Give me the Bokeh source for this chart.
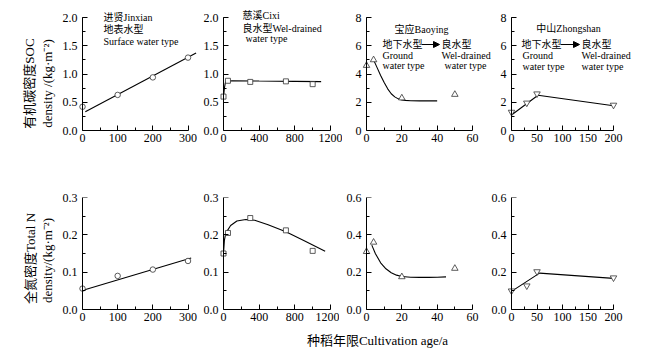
import math
from bokeh.plotting import figure
from bokeh.models import (Range1d, FixedTicker, Label, Arrow, NormalHead, LinearAxis,
                          NumeralTickFormatter)
from bokeh.layouts import row, column
from bokeh.embed import file_html
from bokeh.resources import INLINE

# ---------------- data ----------------
# SOC density (kg m-2) vs cultivation age (a)
jx_soc_age = [0, 100, 200, 300]
jx_soc = [0.42, 0.63, 0.94, 1.29]
jx_soc_fit_age = [8, 323]
jx_soc_fit = [0.33, 1.37]

cx_soc_age = [0, 50, 300, 700, 1000]
cx_soc = [0.60, 0.88, 0.86, 0.87, 0.82]
cx_soc_fit_age = [2, 10, 20, 35, 100, 400, 800, 1095]
cx_soc_fit = [0.62, 0.75, 0.84, 0.875, 0.88, 0.875, 0.87, 0.865]

by_soc_age = [0, 4, 20, 50]
by_soc = [4.6, 5.0, 2.3, 2.55]
by_soc_fit_age = [4, 6, 8, 10, 12, 14, 16, 18, 20, 22, 25, 30, 40]
by_soc_fit = [5.0, 4.45, 3.9, 3.4, 2.95, 2.6, 2.38, 2.24, 2.17, 2.13, 2.11, 2.1, 2.1]

zs_soc_age = [0, 30, 50, 200]
zs_soc = [1.3, 1.95, 2.6, 1.8]
zs_soc_fit_age = [0, 52, 200]
zs_soc_fit = [1.1, 2.5, 1.75]

# Total N density (kg m-2)
jx_tn_age = [0, 100, 200, 300]
jx_tn = [0.056, 0.09, 0.107, 0.13]
jx_tn_fit_age = [4, 309]
jx_tn_fit = [0.052, 0.138]

cx_tn_age = [0, 50, 300, 700, 1000]
cx_tn = [0.15, 0.205, 0.245, 0.212, 0.157]
cx_tn_fit_age = [0, 10, 20, 40, 80, 150, 250, 350, 500, 700, 900, 1140]
cx_tn_fit = [0.15, 0.185, 0.198, 0.21, 0.225, 0.237, 0.241, 0.239, 0.227, 0.208, 0.185, 0.156]

by_tn_age = [0, 4, 20, 50]
by_tn = [0.31, 0.36, 0.175, 0.22]
by_tn_fit_age = [3, 5, 8, 11, 14, 17, 20, 25, 30, 35, 40, 45]
by_tn_fit = [0.345, 0.30, 0.25, 0.218, 0.197, 0.184, 0.177, 0.173, 0.172, 0.172, 0.173, 0.175]

zs_tn_age = [0, 30, 50, 200]
zs_tn = [0.10, 0.127, 0.203, 0.17]
zs_tn_fit_age = [0, 55, 200]
zs_tn_fit = [0.097, 0.195, 0.167]

# ticks
x_ticks_jx = [0, 100, 200, 300]
x_ticks_cx = [0, 400, 800, 1200]
x_ticks_by = [0, 20, 40, 60]
x_ticks_zs = [0, 50, 100, 150, 200]
y_ticks_soc_a = [0, 0.5, 1.0, 1.5, 2.0]
y_ticks_soc_b = [0, 2, 4, 6, 8]
y_ticks_tn_a = [0, 0.1, 0.2, 0.3]
y_ticks_tn_b = [0, 0.2, 0.4, 0.6]
y_fmt_soc_a = "0.0"
y_fmt_soc_b = "0"
y_fmt_tn_a = "0.0"
y_fmt_tn_b = "0.0"

# ---------------- style / layout ----------------
FONT = "'Liberation Serif', 'Noto Sans CJK SC', serif"


def minors(ticks):
    return [(a + b) / 2 for a, b in zip(ticks[:-1], ticks[1:])]


def style_axis(ax):
    ax.axis_line_color = "black"
    ax.axis_line_width = 1
    ax.major_tick_in = 5
    ax.major_tick_out = 0
    ax.minor_tick_in = 3
    ax.minor_tick_out = 0
    ax.major_tick_line_color = "black"
    ax.minor_tick_line_color = "black"
    ax.major_label_text_font = FONT
    ax.major_label_text_font_size = "12px"
    ax.major_label_text_color = "black"
    ax.major_label_standoff = 3


class Panel:
    """One small chart. Pixel arguments are page positions of frame and axes."""

    def __init__(self, page_left, page_top, width, height, bl, br, bt, bb,
                 x0_px, xend_px, y0_px, yend_px, xticks, yticks, yfmt):
        self.frame_left = page_left + bl
        self.frame_right = page_left + width - br
        self.frame_top = page_top + bt
        self.frame_bottom = page_top + height - bb
        self.x0_px = x0_px
        self.y0_px = y0_px
        self.sx = (xend_px - x0_px) / xticks[-1]
        ymax = yticks[-1]
        self.sy = (y0_px - yend_px) / ymax
        p = figure(width=width, height=height,
                   x_range=Range1d(self.dx(self.frame_left), self.dx(self.frame_right)),
                   y_range=Range1d(self.dy(self.frame_bottom), self.dy(self.frame_top)),
                   output_backend="svg", toolbar_location=None,
                   y_axis_location=None,
                   min_border_left=bl, min_border_right=br,
                   min_border_top=bt, min_border_bottom=bb)
        p.grid.visible = False
        p.outline_line_color = None
        p.background_fill_color = "white"
        p.border_fill_color = "white"
        # x axis
        p.xaxis.ticker = FixedTicker(ticks=xticks, minor_ticks=minors(xticks))
        p.xaxis.bounds = (0, xticks[-1])
        style_axis(p.xaxis[0])
        # y axis: tick labels only (outside the frame)
        lab = LinearAxis(ticker=FixedTicker(ticks=yticks),
                         formatter=NumeralTickFormatter(format=yfmt))
        style_axis(lab)
        lab.axis_line_color = None
        lab.major_tick_line_color = None
        lab.minor_tick_line_color = None
        lab.major_label_standoff = int(round(x0_px - self.frame_left)) - 3
        p.add_layout(lab, "left")
        # y axis line with long inward ticks at age 0 (no labels)
        rule_major = LinearAxis(ticker=FixedTicker(ticks=[], minor_ticks=yticks),
                                fixed_location=0, bounds=(0, ymax))
        style_axis(rule_major)
        rule_major.minor_tick_in = 5
        p.add_layout(rule_major, "left")
        # short inward ticks between
        rule_minor = LinearAxis(ticker=FixedTicker(ticks=[], minor_ticks=minors(yticks)),
                                fixed_location=0, bounds=(0, ymax))
        style_axis(rule_minor)
        rule_minor.minor_tick_in = 3
        p.add_layout(rule_minor, "left")
        self.p = p

    def dx(self, px):
        return (px - self.x0_px) / self.sx

    def dy(self, py):
        return (self.y0_px - py) / self.sy

    def text(self, t, px, py, align="left", size="10px"):
        self.p.add_layout(Label(x=self.dx(px), y=self.dy(py), text=t,
                                text_font=FONT, text_font_size=size,
                                text_color="black", text_align=align,
                                text_baseline="middle"))

    def arrow(self, px0, px1, py):
        self.p.add_layout(Arrow(end=NormalHead(size=6, fill_color="black",
                                               line_color="black", line_width=1),
                                x_start=self.dx(px0), y_start=self.dy(py),
                                x_end=self.dx(px1), y_end=self.dy(py),
                                line_color="black", line_width=1))

    def series(self, ax, ay, fx, fy, marker, size):
        self.p.line(fx, fy, line_color="black", line_width=1.1)
        self.p.scatter(ax, ay, marker=marker, size=size, fill_color="white",
                       line_color="#333333", line_width=0.8)


TITLE_W = 56
TOP_H = 170
BOT_H = 159

# top row: axes rectangle y 17..130, frames start at y 8 to hold the captions
t1 = Panel(56, 0, 142, TOP_H, 22, 1, 8, 40, 82, 187.5, 130, 17, x_ticks_jx, y_ticks_soc_a, y_fmt_soc_a)
t2 = Panel(198, 0, 144, TOP_H, 21, 7, 8, 40, 223, 330, 130, 17, x_ticks_cx, y_ticks_soc_a, y_fmt_soc_a)
t3 = Panel(342, 0, 150, TOP_H, 20, 0, 8, 40, 366, 472, 130, 17, x_ticks_by, y_ticks_soc_b, y_fmt_soc_b)
t4 = Panel(492, 0, 173, TOP_H, 15, 33, 8, 40, 511, 613, 130, 17, x_ticks_zs, y_ticks_soc_b, y_fmt_soc_b)

# bottom row: axes rectangle y 197..309
b1 = Panel(56, TOP_H, 142, BOT_H, 22, 1, 27, 20, 82, 187.5, 309, 197, x_ticks_jx, y_ticks_tn_a, y_fmt_tn_a)
b2 = Panel(198, TOP_H, 141, BOT_H, 21, 4, 27, 20, 223, 330, 309, 197, x_ticks_cx, y_ticks_tn_a, y_fmt_tn_a)
b3 = Panel(339, TOP_H, 141, BOT_H, 23, 4, 27, 20, 366, 472, 309, 197, x_ticks_by, y_ticks_tn_b, y_fmt_tn_b)
b4 = Panel(480, TOP_H, 185, BOT_H, 27, 33, 27, 20, 511, 613, 309, 197, x_ticks_zs, y_ticks_tn_b, y_fmt_tn_b)

t1.series(jx_soc_age, jx_soc, jx_soc_fit_age, jx_soc_fit, "circle", 5.5)
t2.series(cx_soc_age, cx_soc, cx_soc_fit_age, cx_soc_fit, "square", 5)
t3.series(by_soc_age, by_soc, by_soc_fit_age, by_soc_fit, "triangle", 6.5)
t4.series(zs_soc_age, zs_soc, zs_soc_fit_age, zs_soc_fit, "inverted_triangle", 6.5)
b1.series(jx_tn_age, jx_tn, jx_tn_fit_age, jx_tn_fit, "circle", 5.5)
b2.series(cx_tn_age, cx_tn, cx_tn_fit_age, cx_tn_fit, "square", 5)
b3.series(by_tn_age, by_tn, by_tn_fit_age, by_tn_fit, "triangle", 6.5)
b4.series(zs_tn_age, zs_tn, zs_tn_fit_age, zs_tn_fit, "inverted_triangle", 6.5)

# annotations
t1.text("进贤Jinxian", 103, 17)
t1.text("地表水型", 103, 29)
t1.text("Surface water type", 103, 41)

t2.text("慈溪Cixi", 242, 15)
t2.text("良水型Wel-drained", 242, 27.5)
t2.text("water type", 245, 38)

t3.text("宝应Baoying", 421, 29, align="center")
t3.text("地下水型", 382, 44)
t3.arrow(421, 439, 44)
t3.text("良水型", 441, 44)
t3.text("Ground", 382, 54.5)
t3.text("water type", 382, 65)
t3.text("Wel-drained", 441, 54.5)
t3.text("water type", 444, 65)

t4.text("中山Zhongshan", 568, 28, align="center")
t4.text("地下水型", 521, 44)
t4.arrow(560, 579, 44)
t4.text("良水型", 581, 44)
t4.text("Ground", 522, 54.5)
t4.text("water type", 522, 65.5)
t4.text("Wel-drained", 581, 54.5)
t4.text("water type", 581, 65.5)

# y-axis titles in a narrow column on the left (page coordinates)
GRID_H = TOP_H + BOT_H
ytitle = figure(width=TITLE_W, height=GRID_H, x_range=Range1d(0, TITLE_W),
                y_range=Range1d(GRID_H, 0), min_border=0,
                x_axis_location=None, y_axis_location=None,
                output_backend="svg", toolbar_location=None)
ytitle.grid.visible = False
ytitle.outline_line_color = None
for t, px, py in [("有机碳密度SOC", 29, 83), ("density /(kg·m⁻²)", 47, 83),
                  ("全氮密度Total N", 30, 258), ("density/(kg·m⁻²)", 47, 260)]:
    ytitle.add_layout(Label(x=px, y=py, text=t, text_font=FONT, text_font_size="13px",
                            text_color="black", text_align="center",
                            text_baseline="middle", angle=math.pi / 2))

# x-axis title strip
STRIP_H = 352 - GRID_H
strip = figure(width=665, height=STRIP_H, x_range=Range1d(0, 665),
               y_range=Range1d(STRIP_H, 0), min_border=0,
               x_axis_location=None, y_axis_location=None,
               output_backend="svg", toolbar_location=None)
strip.grid.visible = False
strip.outline_line_color = None
strip.add_layout(Label(x=377, y=340 - GRID_H, text="种稻年限Cultivation age/a",
                       text_font=FONT, text_font_size="13px", text_color="black",
                       text_align="center", text_baseline="middle"))

grid = column(row(t1.p, t2.p, t3.p, t4.p), row(b1.p, b2.p, b3.p, b4.p))
layout = column(row(ytitle, grid), strip)

open("out.html", "w").write(file_html(layout, INLINE))
